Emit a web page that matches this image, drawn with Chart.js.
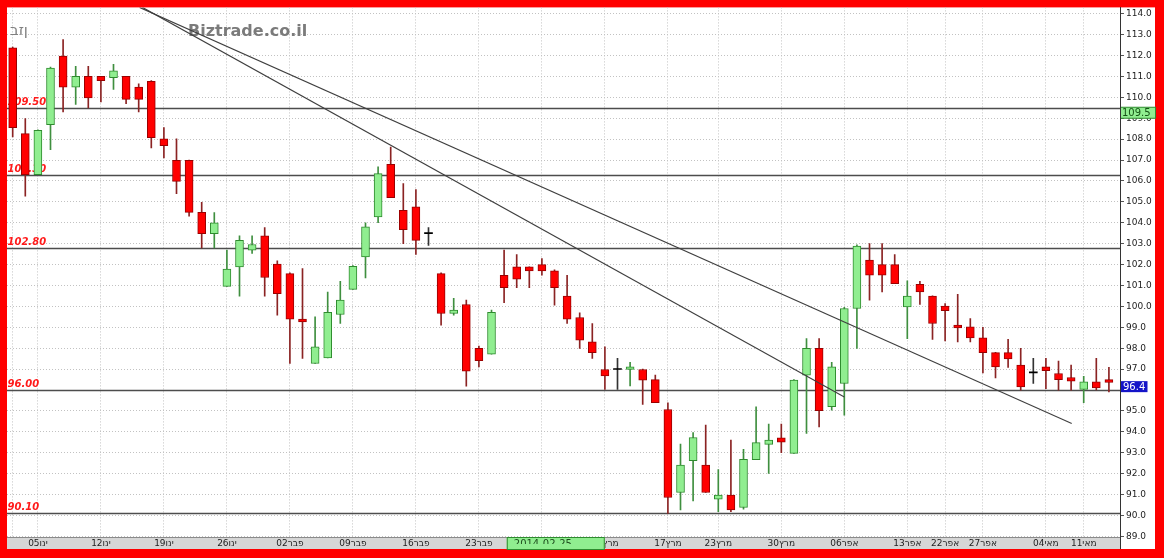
<!DOCTYPE html>
<html>
<head>
<meta charset="utf-8">
<script src="https://cdn.jsdelivr.net/npm/chart.js@4.4.1/dist/chart.umd.min.js"></script>
<style>
  html, body { margin: 0; padding: 0; background: #ff0000; }
  #wrap { width: 1164px; height: 558px; }
</style>
</head>
<body>
<div id="wrap"><canvas id="chart" width="1164" height="558"></canvas></div>
<script>
// daily candles (BAZAN), one per trading day
const opens  = [112.37,108.26,106.30,108.69,111.97,110.49,111.00,111.00,110.94,111.00,110.49,110.76,108.01,106.99,106.99,104.50,103.48,100.96,101.89,102.69,103.37,102.02,101.57,99.39,97.27,97.54,99.61,100.81,102.37,104.28,106.80,104.60,104.76,103.48,101.57,99.66,100.09,97.99,97.71,101.49,101.89,101.89,102.00,101.70,100.49,99.47,98.30,96.98,96.98,96.98,96.98,96.50,95.07,91.10,92.62,92.41,90.78,90.97,90.38,92.67,93.40,93.71,92.97,96.71,97.99,95.20,96.31,99.90,102.21,102.00,102.00,99.98,101.06,100.49,100.01,99.10,99.02,98.50,97.79,97.79,97.19,96.82,97.11,96.79,96.60,96.03,96.39,96.50];
const highs  = [112.40,108.98,108.45,111.45,112.76,111.48,111.48,111.00,111.58,111.00,110.65,110.80,108.55,108.01,107.00,104.98,104.49,102.69,103.37,103.37,103.77,102.18,101.60,101.81,99.50,100.69,101.20,101.95,104.00,106.67,107.62,105.87,105.59,103.77,101.60,100.38,100.30,98.10,99.82,102.69,102.48,101.89,102.29,101.75,101.49,99.69,99.18,98.06,97.51,97.32,97.00,96.71,95.39,93.41,93.97,94.32,92.20,93.60,93.16,95.20,94.37,94.37,96.50,98.46,98.46,97.32,99.95,102.95,103.00,103.00,102.48,101.22,101.20,100.50,100.14,100.58,99.42,99.00,97.80,98.42,97.99,97.51,97.51,97.38,97.19,96.66,97.51,97.08];
const lows   = [108.10,105.27,106.30,107.50,109.30,109.66,109.49,109.78,110.38,109.70,109.30,107.58,107.10,105.39,104.31,102.80,102.80,100.96,100.49,102.53,100.49,99.58,97.27,97.51,97.27,97.54,99.18,100.81,101.36,104.00,105.20,103.00,102.48,102.91,99.10,99.58,96.18,97.11,97.71,100.18,100.90,100.90,101.49,100.06,99.18,97.99,97.51,96.03,96.03,96.20,95.31,95.39,90.10,90.26,90.70,91.10,90.18,90.18,90.30,92.67,92.01,93.00,92.97,93.92,94.24,95.04,94.80,97.99,100.30,100.69,101.09,98.46,100.09,98.42,98.35,98.30,98.30,96.82,96.58,97.08,95.99,96.31,96.07,95.99,95.99,95.39,96.00,95.91];
const closes = [108.55,106.30,108.42,111.40,110.49,111.00,109.97,110.80,111.27,109.90,109.90,108.07,107.69,105.98,104.50,103.48,104.00,101.78,103.16,102.96,101.38,100.61,99.39,99.26,98.06,99.71,100.30,101.92,103.80,106.35,105.20,103.67,103.16,103.48,99.66,99.82,96.90,97.40,99.71,100.90,101.30,101.70,101.70,100.90,99.39,98.38,97.79,96.68,96.98,97.11,96.47,95.39,90.86,92.41,93.73,91.10,90.97,90.26,92.69,93.48,93.60,93.51,96.47,97.99,95.01,97.11,99.90,102.89,101.49,101.49,101.09,100.49,100.69,99.18,99.79,98.97,98.49,97.79,97.11,97.49,96.15,96.82,96.92,96.50,96.42,96.39,96.10,96.36];

// date axis: candle index of each labelled gridline
const tickIdx    = [0, 2, 7, 12, 17, 22, 27, 32, 37, 42, 47, 52, 56, 61, 66, 71, 74, 77, 82, 85];
const tickLabels = ['', '05ינו', '12ינו', '19ינו', '26ינו', '02פבר', '09פבר', '16פבר', '23פבר', '02מרץ', '09מרץ', '17מרץ', '23מרץ', '30מרץ', '06אפר', '13אפר', '22אפר', '27אפר', '04מאי', '11מאי'];
const yTicks = [89, 90, 91, 92, 93, 94, 95, 96, 97, 98, 99, 100, 101, 102, 103, 104, 105, 106, 107, 108, 109, 110, 111, 112, 113, 114];

// support / resistance levels
const levels      = [109.5, 106.3, 102.8, 96.0, 90.1];
const levelLabels = ['109.50', '106.30', '102.80', '96.00', '90.10'];

// trend lines (candle index, price)
const trendUpper = [{x: 10.07, y: 114.3}, {x: 84.05, y: 94.40}];
const trendLower = [{x: 10.30, y: 114.3}, {x: 66.00, y: 95.67}];

const markPrice = 109.5;
const lastPrice = 96.4;
const crossIdx = 43.1;
const crossDate = '2014-02-25';
const stockName = 'בזן';

const idx = closes.map((_, i) => i);
const dir = idx.map(i => closes[i] > opens[i] ? 1 : (closes[i] < opens[i] ? -1 : 0));

const UP = '#90ee90', UP_LINE = '#2e8b2e', UP_WICK = '#3f8f3f';
const DN = '#ff0000', DN_LINE = '#9a0000', DN_WICK = '#8b2323';

const decor = {
    id: 'decor',
    beforeDraw(chart) {
        const {ctx, chartArea: a, scales: {x, y}} = chart;
        ctx.save();
        ctx.fillStyle = '#ff0000';
        ctx.fillRect(0, 0, chart.width, chart.height);
        ctx.fillStyle = '#ffffff';
        ctx.fillRect(a.left, a.top, y.right - a.left, x.bottom - a.top);
        ctx.fillStyle = '#d6d6d6';
        ctx.fillRect(a.left, a.bottom, a.right - a.left, x.bottom - a.bottom);
        ctx.restore();
    },
    beforeDatasetsDraw(chart) {
        const {ctx, chartArea: a, scales: {y}} = chart;
        ctx.save();
        ctx.fillStyle = '#7b7b7b';
        ctx.font = 'bold 16px "DejaVu Sans"';
        ctx.textBaseline = 'alphabetic';
        ctx.fillText('Biztrade.co.il', 188, 36);
        ctx.fillStyle = '#808080';
        ctx.font = '15px "DejaVu Sans"';
        // name is shown left-to-right in the source picture
        ctx.fillText('\u202D' + stockName + '\u202C', 10, 35);

        levels.forEach((v, k) => {
            const py = Math.round(y.getPixelForValue(v)) + 0.5;
            ctx.strokeStyle = '#4d4d4d';
            ctx.lineWidth = 1.3;
            ctx.beginPath();
            ctx.moveTo(a.left, py);
            ctx.lineTo(a.right, py);
            ctx.stroke();
            ctx.fillStyle = '#ff1a1a';
            ctx.font = 'italic bold 10px "DejaVu Sans"';
            ctx.fillText(levelLabels[k], a.left + 0.5, py - 3.5);
        });
        ctx.restore();
    },
    afterDraw(chart) {
        const {ctx, chartArea: a, scales: {x, y}} = chart;
        ctx.save();
        ctx.font = '10px "DejaVu Sans"';
        ctx.textBaseline = 'middle';

        let py = y.getPixelForValue(markPrice);
        ctx.fillStyle = UP;
        ctx.fillRect(a.right + 0.5, py - 0.5, 35, 11);
        ctx.strokeStyle = UP_LINE;
        ctx.lineWidth = 1;
        ctx.strokeRect(a.right + 0.5, py - 0.5, 35, 11);
        ctx.fillStyle = '#145214';
        ctx.fillText(markPrice.toFixed(1), a.right + 2, py + 5.5);

        py = y.getPixelForValue(lastPrice);
        ctx.fillStyle = '#1414c8';
        ctx.fillRect(a.right + 0.5, py - 0.5, 27, 11);
        ctx.fillStyle = '#ffffff';
        ctx.fillText(lastPrice.toFixed(1), a.right + 3, py + 5.5);

        const cx = x.getPixelForValue(crossIdx);
        ctx.fillStyle = UP;
        ctx.fillRect(cx - 49, a.bottom, 98, x.bottom - a.bottom);
        ctx.strokeStyle = UP_LINE;
        ctx.strokeRect(cx - 48.5, a.bottom + 0.5, 97, x.bottom - a.bottom);
        ctx.beginPath();
        ctx.rect(cx - 49, a.bottom, 98, 7);
        ctx.clip();
        ctx.fillStyle = '#1f4f1f';
        ctx.font = '10px "DejaVu Sans"';
        ctx.textBaseline = 'top';
        ctx.fillText(crossDate, cx - 42, a.bottom + 2);
        ctx.restore();

        ctx.save();
        ctx.strokeStyle = '#333';
        ctx.lineWidth = 1;
        ctx.beginPath();
        ctx.moveTo(a.right + 0.5, a.top);
        ctx.lineTo(a.right + 0.5, x.bottom);
        ctx.stroke();
        ctx.restore();
    }
};

Chart.defaults.font.family = '"DejaVu Sans", sans-serif';

new Chart(document.getElementById('chart').getContext('2d'), {
    type: 'bar',
    data: {
        datasets: [
            {type: 'line', data: trendUpper, borderColor: '#3f3f3f', borderWidth: 1.1, pointRadius: 0},
            {type: 'line', data: trendLower, borderColor: '#3f3f3f', borderWidth: 1.1, pointRadius: 0},
            {
                type: 'bar',
                data: idx.map(i => ({x: i, y: [opens[i], closes[i]]})),
                backgroundColor: dir.map(d => d > 0 ? UP : (d < 0 ? DN : '#000')),
                borderColor: dir.map(d => d > 0 ? UP_LINE : DN_LINE),
                borderWidth: dir.map(d => d === 0 ? 0 : 1),
                borderSkipped: false,
                barThickness: 8,
                minBarLength: 1,
                grouped: false
            },
            {
                type: 'bar',
                data: idx.map(i => ({x: i, y: [lows[i], highs[i]]})),
                backgroundColor: dir.map(d => d > 0 ? UP_WICK : (d < 0 ? DN_WICK : '#333')),
                borderWidth: 0,
                barThickness: 1,
                grouped: false
            }
        ]
    },
    options: {
        responsive: false,
        animation: false,
        events: [],
        layout: {padding: {left: 7, top: 7, right: 9, bottom: 9}},
        plugins: {legend: {display: false}, tooltip: {enabled: false}},
        scales: {
            x: {
                type: 'linear',
                min: -0.452,
                max: 87.88,
                offset: false,
                afterBuildTicks: s => { s.ticks = tickIdx.map(v => ({value: v})); },
                afterFit: s => { s.height = 12; },
                ticks: {
                    autoSkip: false, maxRotation: 0, minRotation: 0, padding: 1,
                    font: {size: 9}, color: '#222',
                    callback: (v, i) => tickLabels[i]
                },
                grid: {color: '#c2c2c2', drawTicks: false, offset: false},
                border: {color: '#8a8a8a', dash: [1, 2]}
            },
            y: {
                type: 'linear',
                position: 'right',
                min: 88.97,
                max: 114.3,
                beginAtZero: false,
                afterBuildTicks: s => { s.ticks = yTicks.map(v => ({value: v})); },
                afterFit: s => { s.width = 35; },
                ticks: {font: {size: 9}, color: '#222', padding: 2, callback: v => v.toFixed(1)},
                grid: {color: '#c2c2c2', tickLength: 4, tickColor: '#555'},
                border: {color: '#333', dash: [1, 2]}
            }
        }
    },
    plugins: [decor]
});
</script>
</body>
</html>
